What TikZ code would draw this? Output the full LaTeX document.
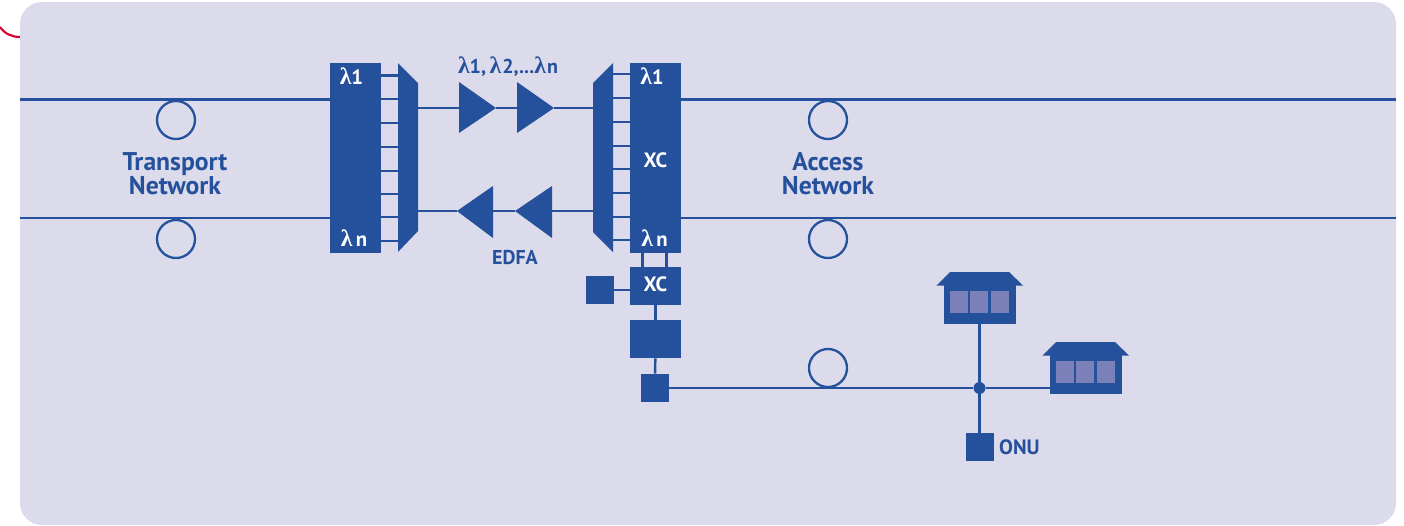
\documentclass[tikz,border=0pt]{standalone}
\usepackage{amsmath,amssymb}
\usepackage{fontspec}
\setmainfont{PT Sans}
\newfontfamily\lamfont{Liberation Serif}
\usepackage{xcolor}
\usetikzlibrary{positioning, calc}
\definecolor{fiberblue}{RGB}{37,80,155}
\definecolor{panelbg}{RGB}{220,219,236}
\definecolor{windowblue}{RGB}{123,128,184}
\definecolor{cutred}{RGB}{217,0,47}
\newcommand{\lam}{{\lamfont\fontsize{13.5}{13}\selectfont λ}}
\tikzset{
	link/.style={draw=fiberblue, line width=1.4pt},
	stub/.style={draw=fiberblue, line width=1.2pt},
	ring/.style={circle, draw=fiberblue, line width=1.3pt, fill=none, minimum size=0.76cm, inner sep=0pt},
	block/.style={fill=fiberblue, inner sep=0pt, minimum width=1.02cm},
	port/.style={fill=fiberblue, inner sep=0pt, minimum size=0.56cm},
	whitetext/.style={text=white, font=\fontsize{11.8}{13}\selectfont\bfseries, inner sep=0pt},
	bluetext/.style={text=fiberblue, font=\fontsize{11.4}{13}\selectfont\bfseries, inner sep=0pt},
	nettext/.style={text=fiberblue, font=\fontsize{14.6}{13.7}\selectfont\bfseries, inner sep=0pt, align=center},
	amp/.style={fill=fiberblue},
	pane/.style={fill=windowblue}
}
\begin{document}
\begin{tikzpicture}[x=0.02cm, y=-0.02cm]
	\useasboundingbox (0,0) rectangle (1404,525);
	% panel and the cut mark at its corner
	\draw[cutred, line width=1.2pt] (0,27) .. controls (5,34) and (12,37) .. (20,37);
	\fill[panelbg, rounded corners=0.44cm] (20,2) rectangle (1396,525);
	% the two blocks with their ports
	\node[block, minimum height=3.8cm] (txbox) at (355.5,158) {};
	\node[block, minimum height=3.8cm] (rxbox) at (655.5,158) {};
	\coordinate (txmuxw) at (398,158);
	\coordinate (rxmuxe) at (613,158);
	\coordinate (txtop) at (418,108);
	\coordinate (txbot) at (418,211);
	\coordinate (rxtop) at (593,108);
	\coordinate (rxbot) at (593,211);
	\fill[fiberblue] (398,63) -- (418,83) -- (418,231) -- (398,252) -- cycle;
	\fill[fiberblue] (613,63) -- (593,83) -- (593,232) -- (613,252) -- cycle;
	\foreach \y in {75.5,99,123,147,171,194,217,241} {
		\draw[stub] (txbox.east |- 0,\y) -- (txmuxw |- 0,\y);
	}
	\foreach \y in {74,98,122,146,169,193,217,240} {
		\draw[stub] (rxbox.west |- 0,\y) -- (rxmuxe |- 0,\y);
	}
	% ring lines on both sides
	\coordinate (leftup) at (20,99.5);
	\coordinate (leftdn) at (20,218);
	\coordinate (rightup) at (1396,99.5);
	\coordinate (rightdn) at (1396,218);
	\draw[link] (leftup) -- (leftup -| txbox.west);
	\draw[link] (leftdn) -- (leftdn -| txbox.west);
	\draw[link] (rightup -| rxbox.east) -- (rightup);
	\draw[link] (rightdn -| rxbox.east) -- (rightdn);
	\node[ring] (ringa) at (176,120) {};
	\node[ring] (ringb) at (176,239) {};
	\node[ring] (ringc) at (828,120) {};
	\node[ring] (ringd) at (828,239) {};
	\node[ring] (ringe) at (828,368) {};
	% amplifiers
	\coordinate (ampa) at (459,108);
	\coordinate (ampb) at (496,108);
	\coordinate (ampc) at (517,108);
	\coordinate (ampd) at (554,108);
	\coordinate (ampe) at (457,211);
	\coordinate (ampf) at (493,211);
	\coordinate (ampg) at (515,211);
	\coordinate (amph) at (552,211);
	\draw[link] (txtop) -- (ampa);
	\draw[link] (ampb) -- (ampc);
	\draw[link] (ampd) -- (rxtop);
	\draw[link] (txbot) -- (ampe);
	\draw[link] (ampf) -- (ampg);
	\draw[link] (amph) -- (rxbot);
	\fill[amp] (459,82) -- (496,108) -- (459,133) -- cycle;
	\fill[amp] (517,82) -- (554,108) -- (517,133) -- cycle;
	\fill[amp] (493,186) -- (457,211) -- (493,238) -- cycle;
	\fill[amp] (552,186) -- (515,211) -- (552,238) -- cycle;
	% drop branch
	\node[block, minimum height=0.76cm] (xcbox) at (655.5,286) {};
	\node[port] (addport) at (600,290) {};
	\node[block, minimum height=0.76cm] (olt) at (655.5,339) {};
	\node[port] (feeder) at (655,388) {};
	\draw[link] (642.5,253) -- (642.5,267);
	\draw[link] (666.5,253) -- (666.5,267);
	\draw[link] (addport.east) -- (addport.east -| xcbox.west);
	\draw[link] (xcbox) -- (olt);
	\draw[link] (olt) -- (feeder);
	% houses
	\node[fill=fiberblue, circle, inner sep=0pt, minimum size=0.24cm] (tap) at (979.5,388) {};
	\node[fill=fiberblue, inner sep=0pt, minimum width=1.44cm, minimum height=0.78cm] (housea) at (979.5,304) {};
	\node[fill=fiberblue, inner sep=0pt, minimum width=1.44cm, minimum height=0.78cm] (houseb) at (1086,374.5) {};
	\fill[fiberblue] (936.5,285.5) -- (950,272) -- (1009,272) -- (1023,285.5) -- cycle;
	\fill[fiberblue] (1042.5,355.5) -- (1056,342) -- (1115,342) -- (1129,355.5) -- cycle;
	\foreach \x in {950,970,991} {
		\fill[pane] (\x,291) rectangle ++(18,22);
		\fill[pane] (\x+106,361) rectangle ++(18,22);
	}
	\node[port] (onu) at (979.5,447) {};
	\draw[link] (feeder) -- (tap);
	\draw[link] (housea) -- (tap);
	\draw[link] (tap) -- (onu);
	\draw[link] (tap) -- (tap -| houseb.west);
	% labels
	\node[nettext] (transport) at (175,174) {Transport\\Network};
	\node[nettext] (access) at (828,174) {Access\\Network};
	\node[whitetext] (lamtxa) at (351.5,76) {\lam 1};
	\node[whitetext] (lamtxn) at (354,238) {\lam\,n};
	\node[whitetext] (lamrxa) at (652,76) {\lam 1};
	\node[whitetext] (lamrxn) at (654.5,238) {\lam\,n};
	\node[whitetext] (xcupper) at (655.5,160) {XC};
	\node[whitetext] (xclower) at (655.5,284) {XC};
	\node[bluetext] (channels) at (508,67) {\lam 1,\hspace{0.18em}\lam\hspace{0.05em}2,...\lam\hspace{0.05em}n};
	\node[bluetext] (edfa) at (515,257) {EDFA};
	\node[bluetext, font=\fontsize{11.8}{13}\selectfont\bfseries, right=0.1cm of onu] (onulabel) {ONU};
\end{tikzpicture}
\end{document}
